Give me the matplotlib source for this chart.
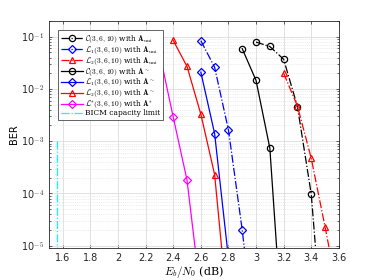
import numpy as np
import matplotlib
matplotlib.use('Agg')
import matplotlib.pyplot as plt
from matplotlib.ticker import LogLocator, NullFormatter, FuncFormatter

plt.rcParams['mathtext.fontset'] = 'cm'
plt.rcParams['font.family'] = ['DejaVu Sans']

# BER curves (Eb/N0 in dB)
c_uni_x = [3.0, 3.1, 3.2, 3.3, 3.4, 3.5]
c_uni_y = [0.079, 0.065, 0.037, 4.6e-3, 9.7e-5, 5e-8]

l1_uni_x = [2.6, 2.7, 2.8, 2.9, 3.0]
l1_uni_y = [0.084, 0.026, 1.65e-3, 2.0e-5, 1e-7]

l2_uni_x = [3.2, 3.3, 3.4, 3.5, 3.6]
l2_uni_y = [0.020, 4.7e-3, 4.7e-4, 2.3e-5, 1e-6]

c_til_x = [2.9, 3.0, 3.1, 3.2]
c_til_y = [0.059, 0.0146, 7.4e-4, 1e-7]

l1_til_x = [2.6, 2.7, 2.8]
l1_til_y = [0.021, 1.4e-3, 5.8e-6]

l2_til_x = [2.4, 2.5, 2.6, 2.7, 2.8]
l2_til_y = [0.085, 0.027, 3.3e-3, 2.3e-4, 4e-7]

ls_x = [2.3, 2.4, 2.5, 2.6]
ls_y = [0.05, 2.9e-3, 1.8e-4, 1.1e-6]

bicm_x = [1.56, 1.56]
bicm_y = [1e-3, 1e-6]

fig = plt.figure(figsize=(3.74, 2.80), dpi=100)
ax = fig.add_axes([0.131, 0.114, 0.775, 0.811])

mk = dict(markersize=4.5, markerfacecolor='none', markeredgewidth=0.9, linewidth=0.9)
dk = dict(mk, markersize=3.8)
ax.semilogy(c_uni_x, c_uni_y, 'k-.', marker='o', label=r'$\mathcal{C}(3,6,10)$ with $\mathbf{A}_{\rm uni}$', **mk)
ax.semilogy(l1_uni_x, l1_uni_y, 'b-.', marker='D', label=r'$\mathcal{L}_1(3,6,10)$ with $\mathbf{A}_{\rm uni}$', **dk)
ax.semilogy(l2_uni_x, l2_uni_y, 'r-.', marker='^', label=r'$\mathcal{L}_2(3,6,10)$ with $\mathbf{A}_{\rm uni}$', **mk)
ax.semilogy(c_til_x, c_til_y, 'k-', marker='o', label=r'$\mathcal{C}(3,6,10)$ with $\mathbf{A}^{\sim}$', **mk)
ax.semilogy(l1_til_x, l1_til_y, 'b-', marker='D', label=r'$\mathcal{L}_1(3,6,10)$ with $\mathbf{A}^{\sim}$', **dk)
ax.semilogy(l2_til_x, l2_til_y, 'r-', marker='^', label=r'$\mathcal{L}_2(3,6,10)$ with $\mathbf{A}^{\sim}$', **mk)
ax.semilogy(ls_x, ls_y, '-', color='magenta', marker='D', label=r'$\mathcal{L}^{*}(3,6,10)$ with $\mathbf{A}^{*}$', **dk)
ax.semilogy(bicm_x, bicm_y, '-.', color='cyan', linewidth=0.9, label='BICM capacity limit')

ax.set_xlim(1.5, 3.6)
ax.set_ylim(9e-6, 2e-1)
ax.set_xticks(np.arange(1.6, 3.61, 0.2))
ax.set_xticklabels(['1.6', '1.8', '2', '2.2', '2.4', '2.6', '2.8', '3', '3.2', '3.4', '3.6'])
ax.yaxis.set_major_locator(LogLocator(base=10, numticks=10))
ax.yaxis.set_major_formatter(FuncFormatter(lambda v, p: '10$^{\\mathsf{%d}}$' % round(np.log10(v))))
ax.yaxis.set_minor_locator(LogLocator(base=10, subs=np.arange(2, 10), numticks=10))
ax.yaxis.set_minor_formatter(NullFormatter())
ax.tick_params(labelsize=7, direction='in', which='both', top=True, right=True, length=2.5, width=0.5, colors='#262626')
ax.tick_params(which='minor', length=1.5)
ax.grid(True, which='major', color='#dcdcdc', linewidth=0.6)
ax.grid(True, which='minor', axis='y', color='#dcdcdc', linestyle=':', linewidth=0.5)
for s in ax.spines.values():
    s.set_linewidth(0.6)
    s.set_color('#262626')

ax.set_xlabel(r'$E_b/N_0$ (dB)', fontsize=8, family='serif', labelpad=1)
ax.set_ylabel('BER', fontsize=7, labelpad=1)

leg = ax.legend(loc='upper left', handlelength=2.9, handletextpad=0.3,
                labelspacing=-0.15, borderpad=0.35, borderaxespad=1.25, fancybox=False,
                framealpha=1, edgecolor='#262626', prop={'family': 'serif', 'size': 5.4})
leg.get_frame().set_linewidth(0.5)

fig.savefig('out.png', dpi=100)
